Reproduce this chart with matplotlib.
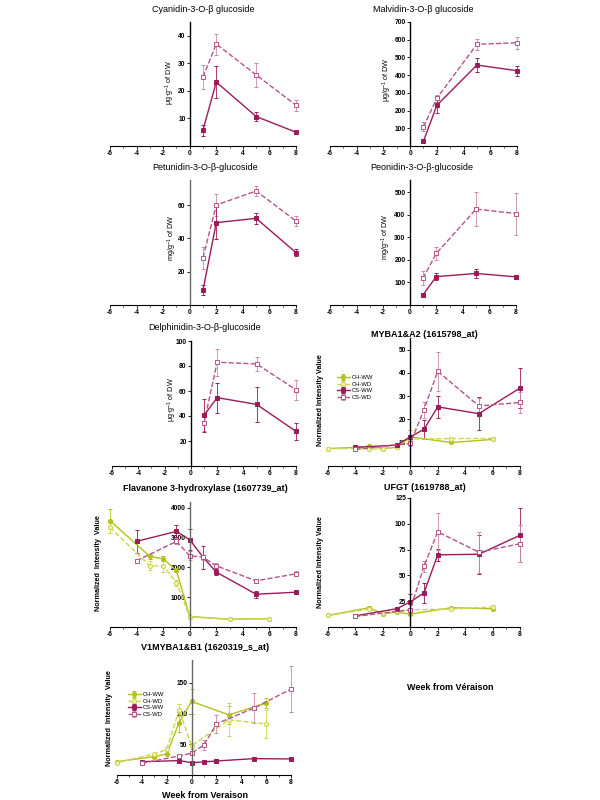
import matplotlib
matplotlib.use('Agg')
import matplotlib.pyplot as plt

plt.rcParams['font.family'] = ['Liberation Sans', 'DejaVu Sans']
plt.rcParams['mathtext.fontset'] = 'custom'
plt.rcParams['mathtext.rm'] = 'Liberation Sans'
plt.rcParams['mathtext.it'] = 'Liberation Sans:italic'
plt.rcParams['axes.unicode_minus'] = False

W, H = 600, 800

# weeks
wk_cs_antho = [1, 2, 5, 8]
wk_ch = [-6, -3, -2, -1, 0, 3, 6]
wk_ch_myb = [-6, -4, -3, -2, -1, 0, 3, 6]
wk_cs = [-4, -1, 0, 1, 2, 5, 8]
wk_cs_wd6 = [-4, 0, 1, 2, 5, 8]

# anthocyanins (CS only)
cyan_ww = [5.8, 23.2, 10.7, 5.0]
cyan_ww_err = [2.0, 5.8, 1.8, 0.5]
cyan_wd = [25.0, 37.0, 25.8, 14.8]
cyan_wd_err = [4.4, 3.8, 4.4, 2.0]

malv_ww = [28, 230, 457, 425]
malv_ww_err = [10, 45, 40, 28]
malv_wd = [108, 270, 574, 583]
malv_wd_err = [25, 20, 30, 35]

petu_ww = [9.0, 49.4, 52.0, 31.4]
petu_ww_err = [3.0, 9.5, 3.5, 2.0]
petu_wd = [28.4, 60.0, 68.4, 50.4]
petu_wd_err = [6.5, 6.5, 3.0, 3.0]

peon_ww = [45, 126, 140, 125]
peon_ww_err = [5, 15, 20, 10]
peon_wd = [119, 229, 426, 406]
peon_wd_err = [32, 27, 77, 93]

delph_ww = [40.5, 54.7, 49.3, 27.7]
delph_ww_err = [13, 12, 14, 6.5]
delph_wd = [34.4, 83.0, 81.6, 61.0]
delph_wd_err = [6.5, 11, 5.5, 8]

# MYBA1&A2
myba_ch_ww = [7.5, 8.0, 8.5, 7.5, 8.0, 12.5, 10.1, 11.4]
myba_ch_ww_err = [0.3, 0.3, 0.4, 0.3, 0.3, 3.0, 0.4, 0.4]
myba_ch_wd = [7.5, 7.5, 7.3, 7.3, 8.3, 11.5, 11.8, 11.8]
myba_ch_wd_err = [0.3, 0.3, 0.4, 0.3, 0.3, 1.0, 0.8, 0.5]
myba_cs_ww = [8.0, 9.0, 12.5, 15.8, 25.4, 22.5, 33.5]
myba_cs_ww_err = [0.4, 0.4, 1.0, 4.0, 4.6, 7.0, 8.7]
myba_cs_wd = [7.1, 9.7, 24.2, 40.7, 25.8, 27.3]
myba_cs_wd_err = [0.4, 1.0, 3.5, 8.3, 3.6, 4.6]

# Flavanone 3-hydroxylase
f3h_ch_ww = [3573, 2371, 2292, 1899, 350, 260, 280]
f3h_ch_ww_err = [400, 80, 80, 60, 30, 20, 20]
f3h_ch_wd = [3350, 2056, 2056, 1494, 350, 260, 280]
f3h_ch_wd_err = [200, 150, 200, 100, 30, 20, 20]
f3h_cs_ww = [2876, 3213, 2933, 2348, 1843, 1101, 1169]
f3h_cs_ww_err = [400, 200, 350, 390, 100, 120, 40]
f3h_cs_wd = [2225, 2876, 2393, 2348, 2056, 1550, 1787]
f3h_cs_wd_err = [60, 100, 150, 80, 80, 60, 80]

# UFGT
ufgt_ch_ww = [11.2, 18.7, 12.8, 14.4, 12.5, 18.7, 17.7]
ufgt_ch_ww_err = [0.5, 1.5, 1.0, 1.0, 1.0, 1.0, 1.0]
ufgt_ch_wd = [11.2, 17.4, 13.4, 15.1, 16.7, 17.4, 19.4]
ufgt_ch_wd_err = [0.5, 1.0, 1.0, 1.0, 1.5, 1.0, 1.5]
ufgt_cs_ww = [10.8, 17.7, 24.3, 33.1, 69.9, 70.5, 88.9]
ufgt_cs_ww_err = [0.8, 1.0, 8.0, 10.0, 6.0, 19.0, 26.0]
ufgt_cs_wd = [10.2, 16.7, 58.7, 92.2, 72.5, 80.7]
ufgt_cs_wd_err = [0.8, 1.5, 5.0, 18.0, 20.0, 18.0]

# V1MYBA1&B1
vmyb_ch_ww = [21.7, 29.9, 34.2, 85.3, 119.6, 97.8, 116.8]
vmyb_ch_ww_err = [1.5, 2.0, 2.0, 15.0, 20.0, 15.0, 8.0]
vmyb_ch_wd = [20.1, 34.2, 41.8, 106.0, 47.3, 89.7, 83.2]
vmyb_ch_wd_err = [1.5, 2.0, 3.0, 10.0, 5.0, 27.0, 23.0]
vmyb_cs_ww = [21.7, 23.4, 20.1, 21.2, 22.8, 26.6, 26.1]
vmyb_cs_ww_err = [1.0, 1.5, 1.0, 1.0, 4.0, 1.5, 1.0]
vmyb_cs_wd = [19.0, 31.0, 35.3, 48.9, 83.2, 108.7, 139.7]
vmyb_cs_wd_err = [3.0, 1.5, 2.0, 8.0, 15.0, 24.0, 38.0]

CS = '#9c1a5a'
CS_L = '#b8528a'
CS_E = '#c98aae'
CH = '#b3c11c'
CH_L = '#ccd64e'

fig = plt.figure(figsize=(6, 8), dpi=100)


def panel(left, right, top, bottom, ymax, yticks, axcol='black'):
    ax = fig.add_axes([left / W, 1 - bottom / H, (right - left) / W, (bottom - top) / H])
    ax.set_xlim(-6, 8)
    ax.set_ylim(0, ymax)
    ax.patch.set_alpha(0)
    for s in ('top', 'right'):
        ax.spines[s].set_visible(False)
    ax.spines['left'].set_position(('data', 0))
    ax.spines['left'].set_color(axcol)
    ax.spines['left'].set_linewidth(1.0)
    ax.spines['bottom'].set_linewidth(0.8)
    ax.set_xticks(range(-6, 9, 2))
    ax.set_xticks(range(-6, 9), minor=True)
    ax.set_yticks(yticks)
    ax.tick_params(labelsize=4.8, length=2, width=0.6, pad=1)
    ax.tick_params(which='minor', length=1.5, width=0.5)
    for lab in ax.get_xticklabels() + ax.get_yticklabels():
        lab.set_fontweight('bold')
    return ax


def series(ax, x, y, err, kind, label=None):
    if kind == 'cs_ww':
        kw = dict(fmt='-s', color=CS, mfc=CS, mec=CS, ecolor=CS)
    elif kind == 'cs_wd':
        kw = dict(fmt='--s', color=CS_L, mfc='white', mec=CS_L, ecolor=CS_E)
    elif kind == 'ch_ww':
        kw = dict(fmt='-o', color=CH, mfc=CH, mec=CH, ecolor=CH)
    else:
        kw = dict(fmt='--o', color=CH_L, mfc='#eef2b8', mec=CH_L, ecolor=CH_L)
    ax.errorbar(x, y, yerr=err, lw=1.0, ms=3, mew=0.7, capsize=1.5,
                elinewidth=0.6, capthick=0.6, clip_on=False, label=label, **kw)


def title(x, y, text, bold=False):
    fig.text(x / W, 1 - y / H, text, ha='center', va='center',
             fontsize=6.5, fontweight='bold' if bold else 'normal')


def ylab(x, y, text, bold=False):
    fig.text(x / W, 1 - y / H, text, ha='center', va='center', rotation=90,
             fontsize=5.2, fontweight='bold' if bold else 'normal')


# Cyanidin
ax = panel(110, 296, 22, 146, 45, [10, 20, 30, 40])
series(ax, wk_cs_antho, cyan_wd, cyan_wd_err, 'cs_wd')
series(ax, wk_cs_antho, cyan_ww, cyan_ww_err, 'cs_ww')
title(203, 9, 'Cyanidin-3-O-β glucoside')
ylab(170, 83, 'μg·g$^{-1}$ of DW')

# Malvidin
ax = panel(330, 517, 22, 146, 700, [100, 200, 300, 400, 500, 600, 700])
series(ax, wk_cs_antho, malv_wd, malv_wd_err, 'cs_wd')
series(ax, wk_cs_antho, malv_ww, malv_ww_err, 'cs_ww')
title(423, 9, 'Malvidin-3-O-β glucoside')
ylab(387, 80, 'μg/g$^{-1}$ of DW')

# Petunidin
ax = panel(110, 296, 180, 305, 75, [20, 40, 60], axcol='#666666')
series(ax, wk_cs_antho, petu_wd, petu_wd_err, 'cs_wd')
series(ax, wk_cs_antho, petu_ww, petu_ww_err, 'cs_ww')
title(205, 167, 'Petunidin-3-O-β-glucoside')
ylab(172, 238, 'mg/g$^{-1}$ of DW')

# Peonidin
ax = panel(330, 516, 180, 305, 555, [100, 200, 300, 400, 500])
series(ax, wk_cs_antho, peon_wd, peon_wd_err, 'cs_wd')
series(ax, wk_cs_antho, peon_ww, peon_ww_err, 'cs_ww')
title(422, 167, 'Peonidin-3-O-β-glucoside')
ylab(386, 237, 'mg/g$^{-1}$ of DW')

# Delphinidin
ax = panel(112, 296, 341, 466, 100, [20, 40, 60, 80, 100])
series(ax, wk_cs_antho, delph_wd, delph_wd_err, 'cs_wd')
series(ax, wk_cs_antho, delph_ww, delph_ww_err, 'cs_ww')
title(205, 328, 'Delphinidin-3-O-β-glucoside')
ylab(172, 400, 'μg·g$^{-1}$ of DW')

# MYBA1&A2
ax = panel(328, 520, 338, 466, 55, [10, 20, 30, 40, 50])
series(ax, wk_ch_myb, myba_ch_ww, myba_ch_ww_err, 'ch_ww', 'CH-WW')
series(ax, wk_ch_myb, myba_ch_wd, myba_ch_wd_err, 'ch_wd', 'CH-WD')
series(ax, wk_cs, myba_cs_ww, myba_cs_ww_err, 'cs_ww', 'CS-WW')
series(ax, wk_cs_wd6, myba_cs_wd, myba_cs_wd_err, 'cs_wd', 'CS-WD')
ax.legend(loc='upper left', bbox_to_anchor=(334 / W, 1 - 372 / H),
          bbox_transform=fig.transFigure, frameon=False, fontsize=4.2,
          handlelength=2.2, labelspacing=0.25, borderpad=0, handletextpad=0.3)
title(424, 335, 'MYBA1&A2 (1615798_at)', bold=True)
ylab(321, 400, 'Normalized Intensity Value', bold=True)

# Flavanone 3-hydroxylase
ax = panel(110, 296, 502, 627, 4200, [1000, 2000, 3000, 4000], axcol='#666666')
series(ax, wk_ch, f3h_ch_ww, f3h_ch_ww_err, 'ch_ww')
series(ax, wk_ch, f3h_ch_wd, f3h_ch_wd_err, 'ch_wd')
series(ax, wk_cs, f3h_cs_ww, f3h_cs_ww_err, 'cs_ww')
series(ax, wk_cs, f3h_cs_wd, f3h_cs_wd_err, 'cs_wd')
title(205, 489, 'Flavanone 3-hydroxylase (1607739_at)', bold=True)
ylab(99, 563, 'Normalized  Intensity  Value', bold=True)

# UFGT
ax = panel(328, 520, 498, 627, 125, [25, 50, 75, 100, 125])
series(ax, wk_ch, ufgt_ch_ww, ufgt_ch_ww_err, 'ch_ww')
series(ax, wk_ch, ufgt_ch_wd, ufgt_ch_wd_err, 'ch_wd')
series(ax, wk_cs, ufgt_cs_ww, ufgt_cs_ww_err, 'cs_ww')
series(ax, wk_cs_wd6, ufgt_cs_wd, ufgt_cs_wd_err, 'cs_wd')
title(425, 487, 'UFGT (1619788_at)', bold=True)
ylab(320, 562, 'Normalized Intensity Value', bold=True)
fig.text(450 / W, 1 - 688 / H, 'Week from Véraison', ha='center', va='center',
         fontsize=6.5, fontweight='bold')

# V1MYBA1&B1
ax = panel(117, 291, 660, 775, 187, [50, 100, 150], axcol='#666666')
series(ax, wk_ch, vmyb_ch_ww, vmyb_ch_ww_err, 'ch_ww', 'CH-WW')
series(ax, wk_ch, vmyb_ch_wd, vmyb_ch_wd_err, 'ch_wd', 'CH-WD')
series(ax, wk_cs, vmyb_cs_ww, vmyb_cs_ww_err, 'cs_ww', 'CS-WW')
series(ax, wk_cs, vmyb_cs_wd, vmyb_cs_wd_err, 'cs_wd', 'CS-WD')
ax.legend(loc='upper left', bbox_to_anchor=(125 / W, 1 - 689 / H),
          bbox_transform=fig.transFigure, frameon=False, fontsize=4.2,
          handlelength=2.2, labelspacing=0.25, borderpad=0, handletextpad=0.3)
title(205, 648, 'V1MYBA1&B1 (1620319_s_at)', bold=True)
ylab(110, 718, 'Normalized  Intensity  Value', bold=True)
fig.text(205 / W, 1 - 795 / H, 'Week from Veraison', ha='center', va='center',
         fontsize=6.5, fontweight='bold')

fig.savefig('out.png', dpi=100)
